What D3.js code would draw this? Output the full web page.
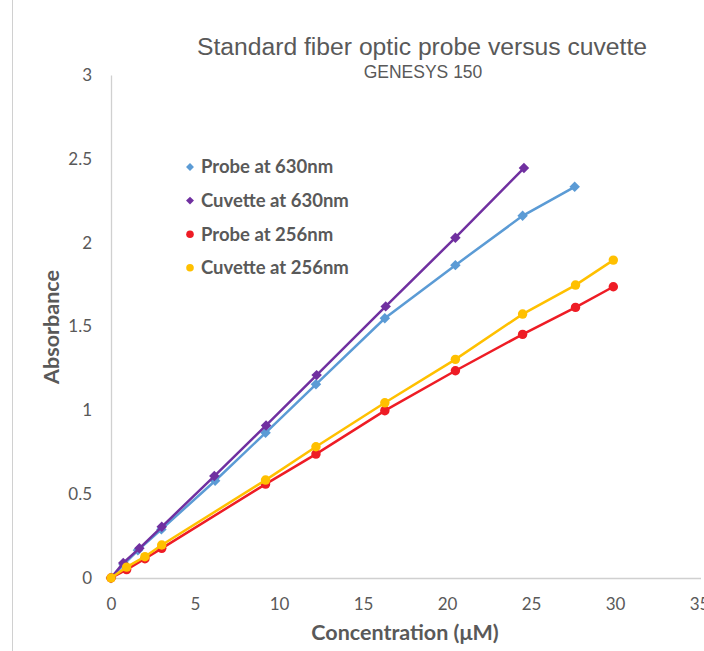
<!DOCTYPE html>
<html>
<head>
<meta charset="utf-8">
<script src="https://cdn.jsdelivr.net/npm/d3@7"></script>
<style>
    body { margin: 0; background: white; }
</style>
</head>
<body>
<div id="chart"></div>
<script>
let width = 704;
let height = 651;

// Data
let probe630Conc = [0, 0.75, 1.6, 3.0, 6.2, 9.2, 12.2, 16.3, 20.5, 24.5, 27.6];
let probe630Abs = [0, 0.08, 0.165, 0.29, 0.58, 0.866, 1.155, 1.549, 1.866, 2.16, 2.333];

let cuvette630Conc = [0, 0.73, 1.69, 3.02, 6.15, 9.23, 12.24, 16.35, 20.5, 24.58];
let cuvette630Abs = [0, 0.09, 0.177, 0.305, 0.608, 0.91, 1.21, 1.62, 2.03, 2.445];

let conc256 = [0, 0.93, 2.02, 3.02, 9.2, 12.2, 16.3, 20.5, 24.5, 27.65, 29.9];
let probe256Abs = [0, 0.05, 0.115, 0.177, 0.56, 0.739, 0.998, 1.236, 1.453, 1.614, 1.737];
let cuvette256Abs = [0, 0.065, 0.127, 0.197, 0.584, 0.783, 1.045, 1.304, 1.574, 1.747, 1.896];

let seriesNames = ["Probe at 630nm", "Cuvette at 630nm", "Probe at 256nm", "Cuvette at 256nm"];
let seriesColors = ["#5B9BD5", "#7030A0", "#EE1C25", "#FFC000"];
let seriesShapes = ["diamond", "diamond", "circle", "circle"];

let xTicks = [0, 5, 10, 15, 20, 25, 30, 35];
let yTicks = [0, 0.5, 1, 1.5, 2, 2.5, 3];

let series = [
    { xs: probe630Conc, ys: probe630Abs },
    { xs: cuvette630Conc, ys: cuvette630Abs },
    { xs: conc256, ys: probe256Abs },
    { xs: conc256, ys: cuvette256Abs }
].map((s, i) => ({
    name: seriesNames[i],
    color: seriesColors[i],
    shape: seriesShapes[i],
    points: s.xs.map((x, j) => ({ x: x, y: s.ys[j] }))
}));

let textColor = "#595959";
let axisColor = "#D0D0D0";
let labelFont = "Lato, 'Open Sans', sans-serif";

let svg = d3.select("#chart")
    .append("svg")
    .attr("width", width)
    .attr("height", height);

// chart area border on the left
svg.append("line")
    .attr("x1", 12.5).attr("x2", 12.5)
    .attr("y1", 0).attr("y2", height)
    .attr("stroke", axisColor);

// Scales
let x = d3.scaleLinear().domain([0, 35]).range([111, 699]);
let y = d3.scaleLinear().domain([0, 3]).range([578, 75]);

// Axes, no tick marks, light lines
let xAxis = svg.append("g")
    .attr("transform", `translate(0, ${y(0)})`)
    .call(d3.axisBottom(x).tickValues(xTicks).tickSize(0).tickPadding(20).tickFormat(d3.format("d")));

let yAxis = svg.append("g")
    .attr("transform", `translate(${x(0)}, 0)`)
    .call(d3.axisLeft(y).tickValues(yTicks).tickSize(0).tickPadding(19).tickFormat(d => d));

[xAxis, yAxis].forEach(ax => {
    ax.select(".domain").attr("stroke", axisColor).attr("stroke-width", 1.3);
    ax.selectAll("text")
        .attr("fill", textColor)
        .attr("font-family", labelFont)
        .attr("font-size", 17);
});
xAxis.select(".domain").attr("d", `M${x(0)},0.5H${x(35) + 2}`);

// Lines and markers
let line = d3.line()
    .x(d => x(d.x))
    .y(d => y(d.y));

let diamond = d3.symbol().type(d3.symbolDiamond2).size(70);
let circle = d3.symbol().type(d3.symbolCircle).size(70);

let groups = svg.selectAll(".series")
    .data(series)
    .enter()
    .append("g")
    .attr("class", "series");

groups.append("path")
    .attr("d", d => line(d.points))
    .attr("fill", "none")
    .attr("stroke", d => d.color)
    .attr("stroke-width", 2.5);

groups.each(function (s) {
    d3.select(this).selectAll(".marker")
        .data(s.points)
        .enter()
        .append("path")
        .attr("class", "marker")
        .attr("transform", d => `translate(${x(d.x)}, ${y(d.y)})`)
        .attr("d", s.shape == "diamond" ? diamond : circle)
        .attr("fill", s.color);
});

// Titles
svg.append("text")
    .attr("x", 422)
    .attr("y", 55)
    .attr("text-anchor", "middle")
    .attr("font-family", "'Liberation Sans', Arial, sans-serif")
    .attr("font-size", 24.7)
    .attr("fill", textColor)
    .text("Standard fiber optic probe versus cuvette");

svg.append("text")
    .attr("x", 423)
    .attr("y", 78)
    .attr("text-anchor", "middle")
    .attr("font-family", "'Liberation Sans', Arial, sans-serif")
    .attr("font-size", 17.5)
    .attr("fill", textColor)
    .text("GENESYS 150");

svg.append("text")
    .attr("x", 405)
    .attr("y", 640)
    .attr("text-anchor", "middle")
    .attr("font-family", labelFont)
    .attr("font-weight", "bold")
    .attr("font-size", 21.5)
    .attr("fill", textColor)
    .text("Concentration (μM)");

svg.append("text")
    .attr("transform", "translate(59, 327) rotate(-90)")
    .attr("text-anchor", "middle")
    .attr("font-family", labelFont)
    .attr("font-weight", "bold")
    .attr("font-size", 21.5)
    .attr("fill", textColor)
    .text("Absorbance");

// Legend
let legend = svg.selectAll(".legendItem")
    .data(series)
    .enter()
    .append("g")
    .attr("class", "legendItem")
    .attr("transform", (d, i) => `translate(190, ${167 + i * 33.6})`);

legend.append("path")
    .attr("d", d => d3.symbol().type(d.shape == "diamond" ? d3.symbolDiamond2 : d3.symbolCircle).size(d.shape == "diamond" ? 40 : 45)())
    .attr("fill", d => d.color);

legend.append("text")
    .attr("x", 11)
    .attr("dy", "0.35em")
    .attr("font-family", labelFont)
    .attr("font-weight", "bold")
    .attr("font-size", 18.5)
    .attr("fill", textColor)
    .text(d => d.name);
</script>
</body>
</html>
